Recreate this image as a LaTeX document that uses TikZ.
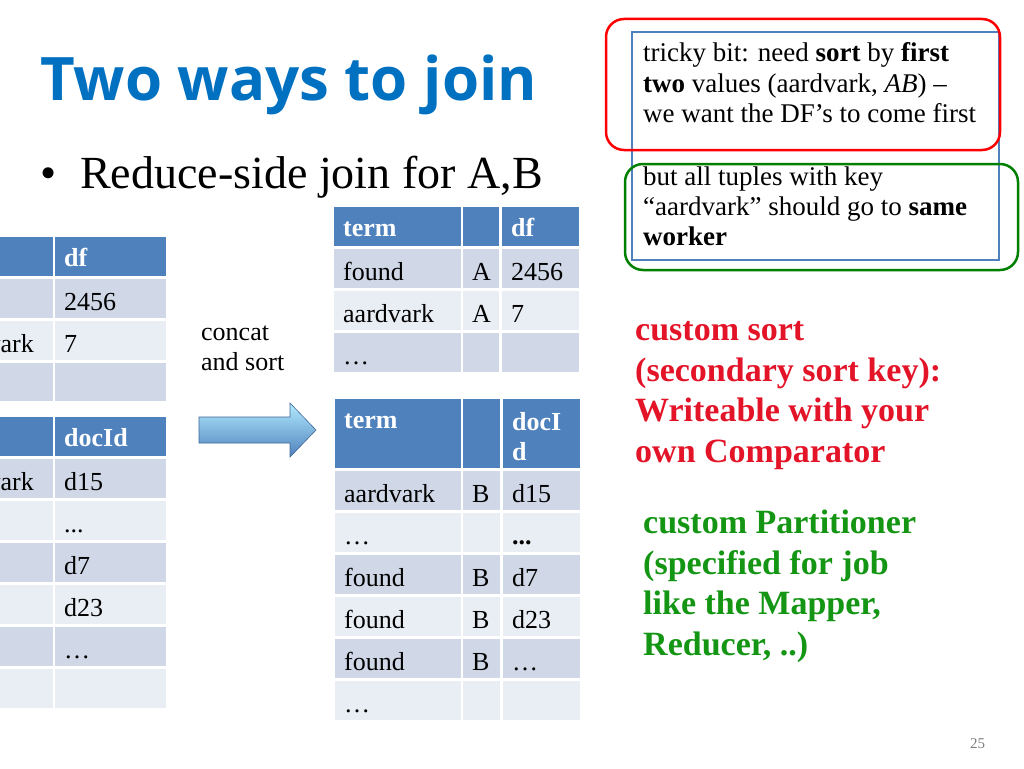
\documentclass[tikz,border=0pt]{standalone}
\usepackage{fontspec}
\setmainfont{Liberation Serif}
\newfontfamily\titlefont{Open Sans}
\definecolor{hdr}{RGB}{79,129,189}
\definecolor{rowA}{RGB}{208,216,232}
\definecolor{rowB}{RGB}{233,237,244}
\definecolor{ttl}{RGB}{0,112,192}
\definecolor{redtxt}{RGB}{228,20,40}
\definecolor{grntxt}{RGB}{20,150,20}
\newcommand\tcell[6]{\fill[#5] (#1,#2) rectangle (#3,#4); \node[celltext] at (#1+9,#2+31) {#6};}
\newcommand\hcell[5]{\fill[hdr] (#1,#2) rectangle (#3,#4); \node[celltext,text=white,font=\fontsize{26}{28}\selectfont\bfseries] at (#1+9,#2+29) {#5};}
\begin{document}
\begin{tikzpicture}[x=1pt,y=-1pt,
  celltext/.style={anchor=base west,inner sep=0pt,font=\fontsize{26}{28}\selectfont},
  boxtext/.style={anchor=base west,inner sep=0pt,font=\fontsize{27}{30}\selectfont},
  note/.style={anchor=base west,inner sep=0pt,font=\fontsize{34}{41}\selectfont\bfseries}]
\useasboundingbox (0,0) rectangle (1024,768);
\fill[white] (0,0) rectangle (1024,768);
\node[anchor=base west,inner sep=0pt,text=ttl,font=\titlefont\fontsize{60}{64}\selectfont\bfseries] (title) at (40,100) {Two ways to join};
\node[anchor=base west,inner sep=0pt,font=\fontsize{46}{48}\selectfont] (bul) at (40,188) {\textbullet};
\node[anchor=base west,inner sep=0pt,font=\fontsize{46}{48}\selectfont] (bullet) at (80,188) {Reduce-side join for A,B};
% left table 1
\fill[hdr] (-10,237) rectangle (53,276); \hcell{55}{237}{166}{276}{df}
\fill[rowA] (-10,279) rectangle (53,318); \tcell{55}{279}{166}{318}{rowA}{2456}
\fill[rowB] (-10,321) rectangle (53,360); \tcell{55}{321}{166}{360}{rowB}{7}
\node[celltext,anchor=base east] (lark) at (34,352) {aardvark};
\fill[rowA] (-10,363) rectangle (53,401); \tcell{55}{363}{166}{401}{rowA}{}
% left table 2
\fill[hdr] (-10,417) rectangle (53,456); \hcell{55}{417}{166}{456}{docId}
\fill[rowA] (-10,459) rectangle (53,498); \tcell{55}{459}{166}{498}{rowA}{d15}
\node[celltext,anchor=base east] (lark2) at (34,490) {aardvark};
\fill[rowB] (-10,501) rectangle (53,540); \tcell{55}{501}{166}{540}{rowB}{...}
\fill[rowA] (-10,543) rectangle (53,582); \tcell{55}{543}{166}{582}{rowA}{d7}
\fill[rowB] (-10,585) rectangle (53,624); \tcell{55}{585}{166}{624}{rowB}{d23}
\fill[rowA] (-10,627) rectangle (53,666); \tcell{55}{627}{166}{666}{rowA}{\dots}
\fill[rowB] (-10,669) rectangle (53,708); \tcell{55}{669}{166}{708}{rowB}{}
% concat
\node[celltext] (concat1) at (201,340) {concat};
\node[celltext] (concat2) at (201,370) {and sort};
\shade[top color=blue!25!cyan!30,bottom color=hdr,draw=hdr!80!black,line width=0.6pt]
  (199,417) -- (290,417) -- (290,403) -- (316,430) -- (290,457) -- (290,443) -- (199,443) -- cycle;
% right table 1
\hcell{334}{207}{461}{246}{term} \hcell{463}{207}{499}{246}{} \hcell{502}{207}{579}{246}{df}
\tcell{334}{249}{461}{288}{rowA}{found} \tcell{463}{249}{499}{288}{rowA}{A} \tcell{502}{249}{579}{288}{rowA}{2456}
\tcell{334}{291}{461}{330}{rowB}{aardvark} \tcell{463}{291}{499}{330}{rowB}{A} \tcell{502}{291}{579}{330}{rowB}{7}
\tcell{334}{333}{461}{372}{rowA}{\dots} \tcell{463}{333}{499}{372}{rowA}{} \tcell{502}{333}{579}{372}{rowA}{}
% right table 2
\hcell{335}{399}{461}{468}{term} \hcell{463}{399}{500}{468}{}
\fill[hdr] (503,399) rectangle (580,468);
\node[celltext,text=white,font=\fontsize{26}{28}\selectfont\bfseries] (docid1) at (512,430) {docI};
\node[celltext,text=white,font=\fontsize{26}{28}\selectfont\bfseries] (docid2) at (512,460) {d};
\tcell{335}{471}{461}{510}{rowA}{aardvark} \tcell{463}{471}{500}{510}{rowA}{B} \tcell{503}{471}{580}{510}{rowA}{d15}
\tcell{335}{513}{461}{552}{rowB}{\dots} \tcell{463}{513}{500}{552}{rowB}{} \tcell{503}{513}{580}{552}{rowB}{\textbf{...}}
\tcell{335}{555}{461}{594}{rowA}{found} \tcell{463}{555}{500}{594}{rowA}{B} \tcell{503}{555}{580}{594}{rowA}{d7}
\tcell{335}{597}{461}{636}{rowB}{found} \tcell{463}{597}{500}{636}{rowB}{B} \tcell{503}{597}{580}{636}{rowB}{d23}
\tcell{335}{639}{461}{678}{rowA}{found} \tcell{463}{639}{500}{678}{rowA}{B} \tcell{503}{639}{580}{678}{rowA}{\dots}
\tcell{335}{681}{461}{720}{rowB}{\dots} \tcell{463}{681}{500}{720}{rowB}{} \tcell{503}{681}{580}{720}{rowB}{}
% boxes
\draw[hdr,line width=1.5pt] (632,32) rectangle (999,260);
\draw[red,line width=2.5pt,rounded corners=18pt] (606,19) rectangle (1000,150);
\draw[green!50!black,line width=2.5pt,rounded corners=18pt] (625,164) rectangle (1018,270);
\node[boxtext] (t1) at (643,62) {tricky bit: need \textbf{sort} by \textbf{first}};
\node[boxtext] (t2) at (643,92) {\textbf{two} values (aardvark, \textit{AB}) –};
\node[boxtext] (t3) at (643,122) {we want the DF’s to come first};
\node[boxtext] (t4) at (643,185) {but all tuples with key};
\node[boxtext] (t5) at (643,215) {“aardvark” should go to \textbf{same}};
\node[boxtext] (t6) at (643,245) {\textbf{worker}};
\node[note,text=redtxt] (n1) at (635,340) {custom sort};
\node[note,text=redtxt] (n2) at (635,381) {(secondary sort key):};
\node[note,text=redtxt] (n3) at (635,421) {Writeable with your};
\node[note,text=redtxt] (n4) at (635,462) {own Comparator};
\node[note,text=grntxt] (g1) at (643,533) {custom Partitioner};
\node[note,text=grntxt] (g2) at (643,574) {(specified for job};
\node[note,text=grntxt] (g3) at (643,614) {like the Mapper,};
\node[note,text=grntxt] (g4) at (643,655) {Reducer, ..)};
\node[anchor=base west,inner sep=0pt,text=gray,font=\fontsize{15}{16}\selectfont] (pg) at (970,748) {25};
\end{tikzpicture}
\end{document}
